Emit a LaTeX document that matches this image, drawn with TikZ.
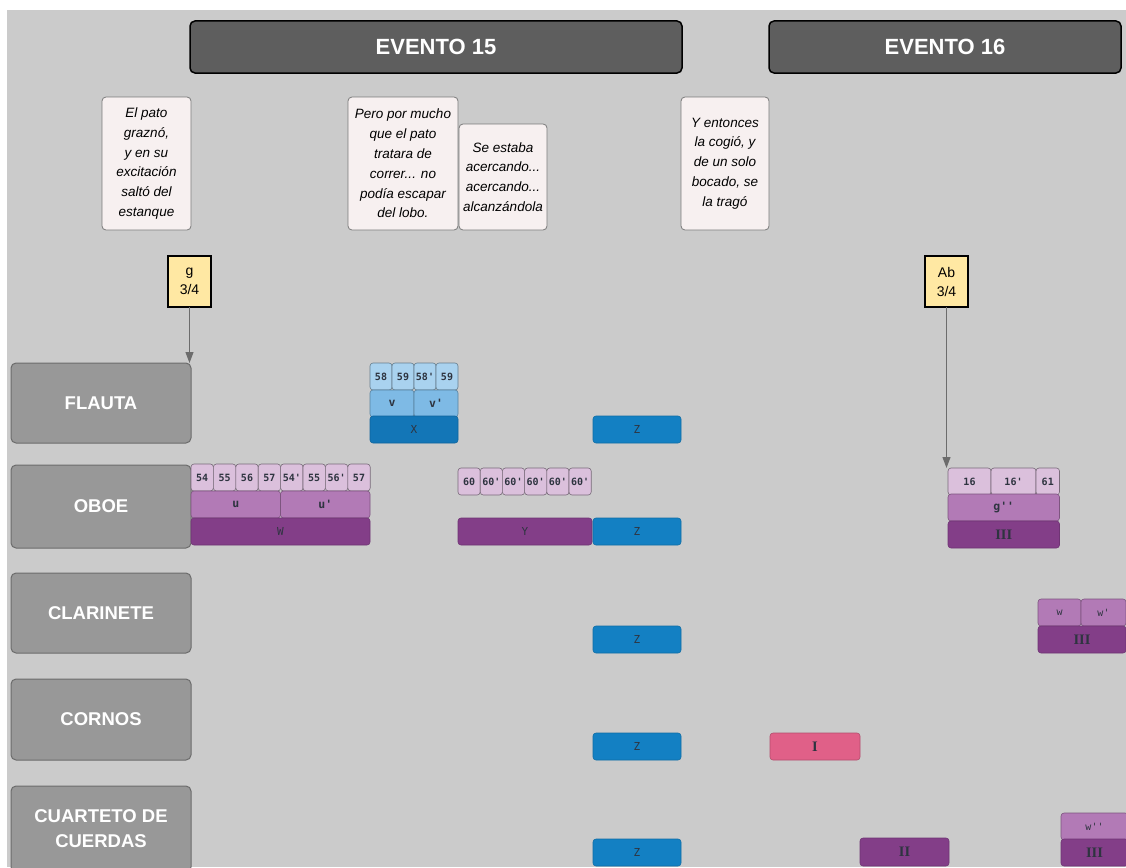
\documentclass[tikz,border=0pt]{standalone}
\usepackage{fontspec}
\setmainfont{Liberation Sans}
\setmonofont{DejaVu Sans Mono}
\newfontfamily\romfont{Liberation Serif}
\usetikzlibrary{arrows.meta}
\definecolor{bg_gray}{HTML}{CBCBCB}
\definecolor{head_gray}{HTML}{5E5E5E}
\definecolor{instr_gray}{HTML}{989898}
\definecolor{instr_line}{HTML}{6C6C6C}
\definecolor{story_fill}{HTML}{F7F0F0}
\definecolor{story_line}{HTML}{7A7A7A}
\definecolor{meter_yellow}{HTML}{FFE8A3}
\definecolor{blue_light}{HTML}{A9D2EF}
\definecolor{blue_mid}{HTML}{7EBAE5}
\definecolor{blue_dark}{HTML}{1376B7}
\definecolor{blue_z}{HTML}{1380C3}
\definecolor{purple_light}{HTML}{DBC0DC}
\definecolor{purple_mid}{HTML}{B27AB6}
\definecolor{purple_dark}{HTML}{833E88}
\definecolor{pink_one}{HTML}{E06088}
\definecolor{cell_text}{HTML}{2E3440}
\tikzset{
  box/.style={anchor=north west, inner sep=0pt, outer sep=0pt},
  header/.style={box, draw=black, line width=1.5pt, fill=head_gray, rounded corners=5pt,
    minimum height=52pt, text=white, font=\fontsize{22}{26}\selectfont\bfseries},
  instr/.style={box, draw=instr_line, line width=1pt, fill=instr_gray, rounded corners=5pt,
    minimum width=180pt, minimum height=80pt, align=center, text=white,
    font=\fontsize{18.5}{25}\selectfont\bfseries},
  story/.style={box, draw=story_line, line width=0.8pt, fill=story_fill, rounded corners=4pt,
    align=center, font=\fontsize{13.5}{19.8}\selectfont\itshape},
  meter/.style={box, draw=black, line width=1.2pt, fill=meter_yellow, minimum width=43pt,
    minimum height=51pt, align=center, font=\fontsize{14}{19}\selectfont},
  cell/.style={box, rounded corners=3pt, line width=0.6pt, minimum height=27pt,
    text=cell_text, font=\fontsize{10}{11}\ttfamily\bfseries},
  cblue1/.style={cell, fill=blue_light, draw=blue_light!60!black},
  cblue2/.style={cell, fill=blue_mid, draw=blue_mid!70!black, font=\fontsize{11.5}{12}\ttfamily\bfseries},
  cblue3/.style={cell, fill=blue_dark, draw=blue_dark!85!black, font=\fontsize{11}{12}\ttfamily},
  zblock/.style={cell, fill=blue_z, draw=blue_z!85!black, minimum width=88pt, font=\fontsize{11}{12}\ttfamily},
  cpurp1/.style={cell, fill=purple_light, draw=purple_light!55!black},
  cpurp2/.style={cell, fill=purple_mid, draw=purple_mid!70!black, font=\fontsize{11.5}{12}\ttfamily\bfseries},
  cpurp3/.style={cell, fill=purple_dark, draw=purple_dark!85!black, font=\fontsize{11}{12}\ttfamily},
  roman/.style={font=\fontsize{14.5}{15}\romfont\bfseries},
  flow/.style={draw=instr_line, line width=1.1pt, -{Triangle[length=11pt,width=8pt]}}
}

\begin{document}
\begin{tikzpicture}[x=1pt, y=-1pt]
  \useasboundingbox (0,0) rectangle (1126,867);
  \fill[white] (0,0) rectangle (1126,867);
  \fill[bg_gray] (7,10) rectangle (1126,867);

  % Events
  \node[header, minimum width=492pt] (ev15) at (190,21) {EVENTO 15};
  \node[header, minimum width=352pt] (ev16) at (769,21) {EVENTO 16};

  % Story
  \node[story, minimum width=89pt, minimum height=133pt] (st1) at (102,97)
    {El pato\\graznó,\\y en su\\excitación\\saltó del\\estanque};
  \node[story, minimum width=110pt, minimum height=133pt] (st2) at (348,97)
    {Pero por mucho\\que el pato\\tratara de\\correr... no\\podía escapar\\del lobo.};
  \node[story, minimum width=88pt, minimum height=106pt] (st3) at (459,124)
    {Se estaba\\acercando...\\acercando...\\alcanzándola};
  \node[story, minimum width=88pt, minimum height=133pt] (st4) at (681,97)
    {Y entonces\\la cogió, y\\de un solo\\bocado, se\\la tragó};

  % Key and meter
  \node[meter] (kg) at (168,256) {g\\3/4};
  \node[meter] (kab) at (925,256) {Ab\\3/4};

  % Instruments
  \node[instr] (fl) at (11,363) {FLAUTA};
  \node[instr, minimum height=83pt] (ob) at (11,465) {OBOE};
  \node[instr] (cl) at (11,573) {CLARINETE};
  \node[instr, minimum height=81pt] (co) at (11,679) {CORNOS};
  \node[instr, minimum height=86pt] (cu) at (11,786) {CUARTETO DE\\CUERDAS};

  % Flauta
  \foreach \t [count=\i from 0] in {58,59,58',59}
    \node[cblue1, minimum width=22pt] (fa\i) at (370+22*\i,363) {\t};
  \node[cblue2, minimum width=44pt] (fv1) at (370,390) {v};
  \node[cblue2, minimum width=44pt] (fv2) at (414,390) {v'};
  \node[cblue3, minimum width=88pt] (fx) at (370,416) {X};
  \node[zblock] (fz) at (593,416) {Z};

  % Oboe
  \foreach \t [count=\i from 0] in {54,55,56,57,54',55,56',57}
    \node[cpurp1, minimum width=22.4pt] (oa\i) at (191+22.4*\i,464) {\t};
  \node[cpurp2, minimum width=89.5pt] (ou1) at (191,491) {u};
  \node[cpurp2, minimum width=89.5pt] (ou2) at (280.5,491) {u'};
  \node[cpurp3, minimum width=179pt] (ow) at (191,518) {W};
  \foreach \t [count=\i from 0] in {60,60',60',60',60',60'}
    \node[cpurp1, minimum width=22.2pt] (ob\i) at (458+22.2*\i,468) {\t};
  \node[cpurp3, minimum width=134pt] (oy) at (458,518) {Y};
  \node[zblock] (oz) at (593,518) {Z};
  \node[cpurp1, minimum width=43pt] (o16) at (948,468) {16};
  \node[cpurp1, minimum width=45pt] (o16b) at (991,468) {16'};
  \node[cpurp1, minimum width=23.5pt] (o61) at (1036,468) {61};
  \node[cpurp2, minimum width=111.5pt] (og) at (948,494) {g''};
  \node[cpurp3, roman, minimum width=111.5pt] (o3) at (948,521) {III};

  % Clarinete
  \node[zblock] (cz) at (593,626) {Z};
  \node[cpurp2, minimum width=43pt, font=\fontsize{10}{11}\ttfamily] (cw1) at (1038,599) {w};
  \node[cpurp2, minimum width=45pt, font=\fontsize{10}{11}\ttfamily] (cw2) at (1081,599) {w'};
  \node[cpurp3, roman, minimum width=88pt] (c3) at (1038,626) {III};

  % Cornos
  \node[zblock] (kz) at (593,733) {Z};
  \node[cell, roman, fill=pink_one, draw=pink_one!80!black, minimum width=90pt] (k1) at (770,733) {I};

  % Cuarteto
  \node[zblock] (qz) at (593,839) {Z};
  \node[cpurp3, roman, minimum width=89pt, minimum height=28pt] (q2) at (860,838) {II};
  \node[cpurp2, minimum width=67pt, font=\fontsize{10}{11}\ttfamily] (qw) at (1061,813) {w''};
  \node[cpurp3, roman, minimum width=67pt] (q3) at (1061,839) {III};

  % Arrows
  \draw[flow] (kg.south) -- (kg.south |- fl.north);
  \draw[flow] (kab.south) -- (kab.south |- o16.north);
\end{tikzpicture}
\end{document}
